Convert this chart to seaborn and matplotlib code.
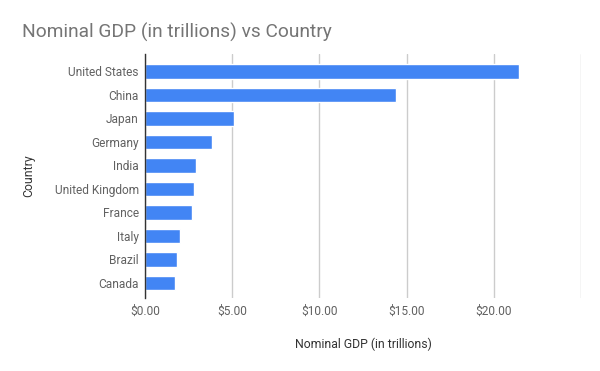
import matplotlib
matplotlib.use("Agg")
import matplotlib.pyplot as plt
import seaborn as sns
import pandas as pd
from matplotlib.ticker import FuncFormatter

countries = ["United States", "China", "Japan", "Germany", "India",
             "United Kingdom", "France", "Italy", "Brazil", "Canada"]
gdp = [21.44, 14.40, 5.08, 3.86, 2.94, 2.83, 2.71, 1.99, 1.85, 1.74]

df = pd.DataFrame({"Country": countries, "Nominal GDP (in trillions)": gdp})

sns.set_theme(style="white")
plt.rcParams["font.family"] = ["Roboto", "DejaVu Sans"]

fig = plt.figure(figsize=(6.0, 3.71), dpi=100)
ax = fig.add_axes([0.2417, 0.1968, 0.7266, 0.6576])

sns.barplot(data=df, x="Nominal GDP (in trillions)", y="Country",
            color="#4285F4", saturation=1, width=0.63, ax=ax, zorder=3)

ax.set_xlim(0, 25)
ax.set_ylim(9.64, -0.74)
ax.set_xticks([0, 5, 10, 15, 20, 25])
ax.xaxis.set_major_formatter(FuncFormatter(lambda v, p: "" if v >= 25 else f"${v:.2f}"))
ax.grid(axis="x", color="#cccccc", linewidth=1, zorder=0)
for s in ["top", "right", "bottom"]:
    ax.spines[s].set_visible(False)
ax.spines["left"].set_color("#333333")
ax.spines["left"].set_linewidth(1)
ax.spines["left"].set_zorder(4)
ax.tick_params(axis="both", length=0, labelsize=8.6, colors="#616161")
ax.tick_params(axis="x", pad=5)
ax.tick_params(axis="y", pad=4.5)

ax.set_xlabel("Nominal GDP (in trillions)", fontsize=8.8, color="#333333", labelpad=14)
ax.set_ylabel("Country", fontsize=8.8, color="#333333", labelpad=14)

fig.text(0.036, 0.8976, "Nominal GDP (in trillions) vs Country", fontsize=13.8,
         color="#757575", ha="left", va="baseline")

fig.savefig("out.png", dpi=100, facecolor="white")
